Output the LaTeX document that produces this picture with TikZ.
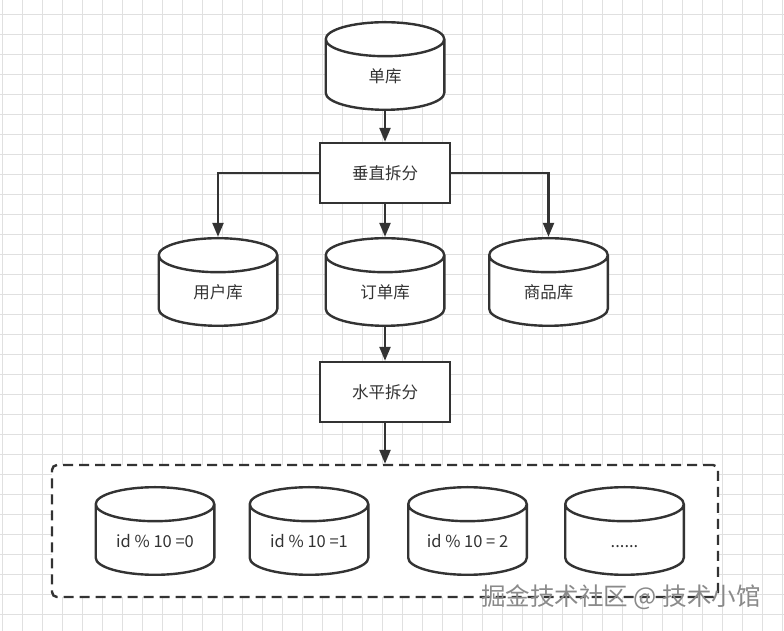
\documentclass[tikz,border=0pt]{standalone}
\usepackage{fontspec}
\setmainfont{Noto Sans CJK SC}
\usetikzlibrary{arrows.meta, calc}
\definecolor{ink}{HTML}{333333}
\definecolor{gridgray}{HTML}{E0E0E0}
\definecolor{markgray}{HTML}{8A8A8A}

\begin{document}
\begin{tikzpicture}[x=1pt, y=1pt,
  every node/.style={font=\fontsize{16.5}{19}\selectfont, text=ink},
  stepbox/.style={draw=ink, line width=2.4pt, fill=white, minimum width=130pt, minimum height=60pt, inner sep=0pt},
  drum/.style={minimum width=121pt, minimum height=90pt, inner sep=0pt, text height=34pt, text depth=0pt,
    path picture={
      \coordinate (lo) at ([shift={(1.2pt,1.2pt)}]path picture bounding box.south west);
      \coordinate (hi) at ([shift={(-1.2pt,-1.2pt)}]path picture bounding box.north east);
      \path[draw=ink, line width=2.4pt, fill=white] let \p1=(lo), \p2=(hi), \n1={(\x2-\x1)/2} in
        (\x1,\y2-17pt) -- (\x1,\y1+17pt) arc[start angle=180, end angle=360, x radius=\n1, y radius=17pt]
        -- (\x2,\y2-17pt) arc[start angle=0, end angle=180, x radius=\n1, y radius=17pt] -- cycle
        (\x1,\y2-17pt) arc[start angle=180, end angle=360, x radius=\n1, y radius=17pt];
    }},
  shardbox/.style={draw=ink, line width=2.4pt, fill=white, dash pattern=on 10pt off 6pt, rounded corners=5pt, minimum width=666pt, minimum height=132pt},
  arr/.style={draw=ink, line width=2.4pt, -{Triangle[length=14pt, width=11pt]}},
]
  \useasboundingbox (0,0) rectangle (784,631);
  \fill[white] (0,0) rectangle (784,631);
  \foreach \gx in {2,22,...,782} \draw[gridgray, line width=0.8pt] (\gx,0) -- (\gx,631);
  \foreach \gy in {17,37,...,617} \draw[gridgray, line width=0.8pt] (0,\gy) -- (784,\gy);

  \node[drum] (single) at (385,565) {单库};
  \node[stepbox] (vsplit) at (385,458) {垂直拆分};

  \node[drum] (userdb) at (218,349) {用户库};
  \node[drum] (orderdb) at (385,349) {订单库};
  \node[drum] (goodsdb) at (548.5,349) {商品库};

  \node[stepbox] (hsplit) at (385,239) {水平拆分};

  % shards after horizontal split
  \node[shardbox] (shards) at (385,100) {};
  \node[drum] (s0) at (155,100) {id \% 10 =0};
  \node[drum] (s1) at (309,100) {id \% 10 =1};
  \node[drum] (s2) at (467.5,100) {id \% 10 = 2};
  \node[drum] (s3) at (624.5,100) {......};

  \draw[arr] (single) -- (vsplit);
  \draw[arr] (vsplit.west) -| (userdb);
  \draw[arr] (vsplit) -- (orderdb);
  \draw[arr] (vsplit.east) -| (goodsdb);
  \draw[arr] (orderdb) -- (hsplit);
  \draw[arr] (hsplit) -- (shards);

  \node[font=\fontsize{24.5}{28}\selectfont, text=markgray] (mark) at (621,34) {掘金技术社区 @ 技术小馆};
\end{tikzpicture}
\end{document}
